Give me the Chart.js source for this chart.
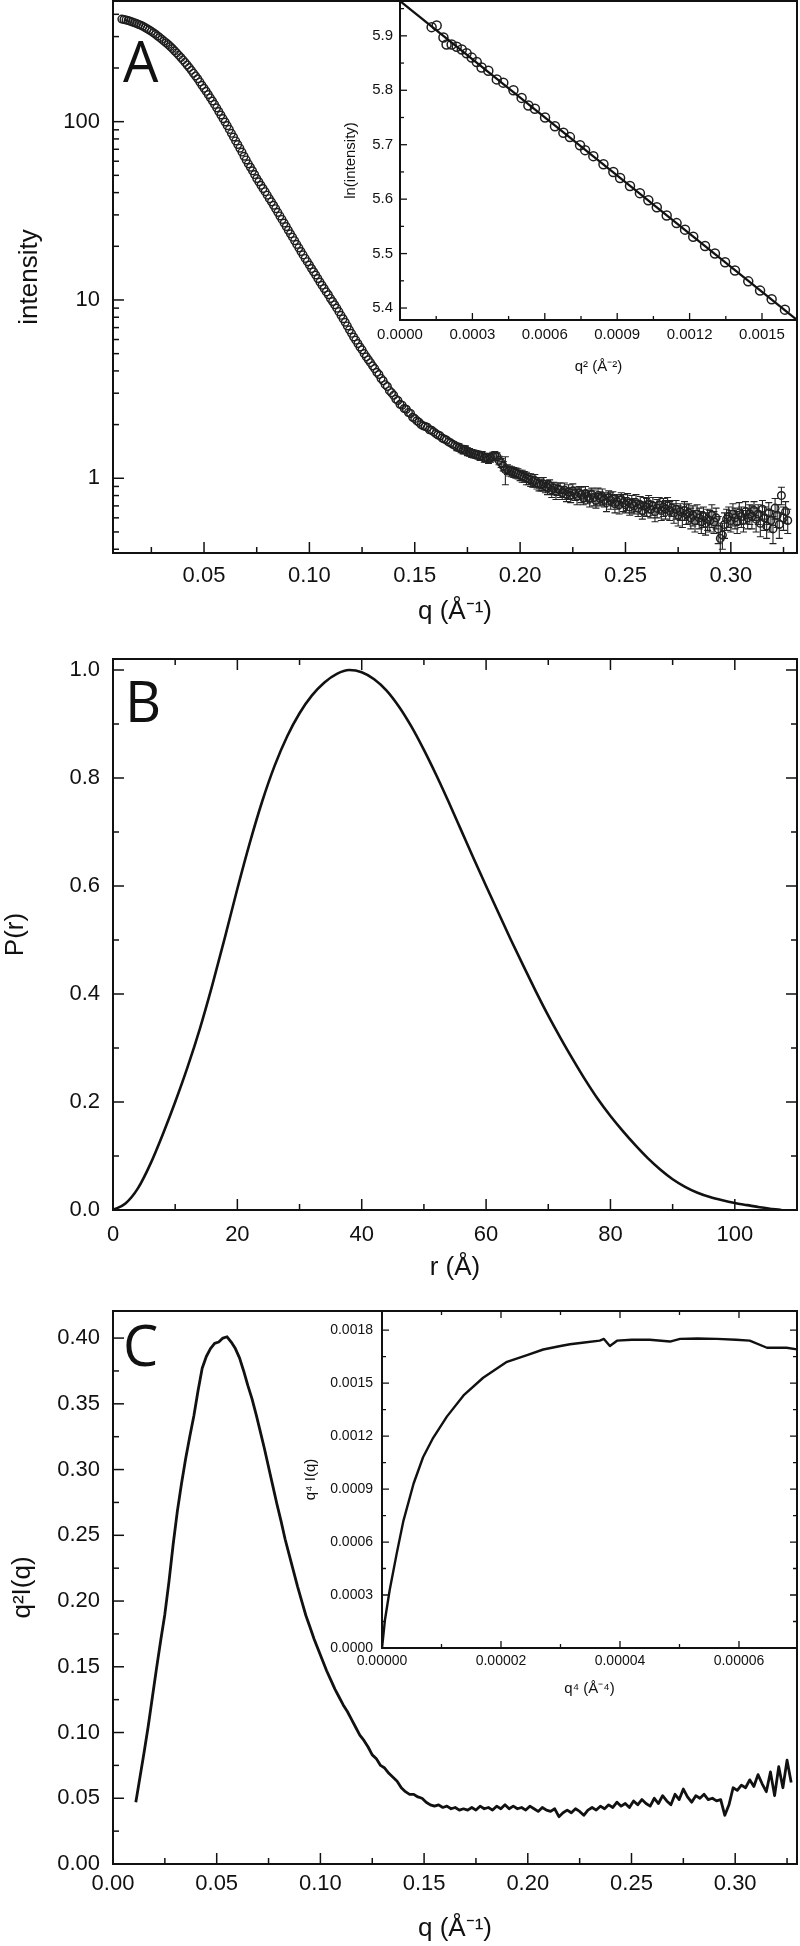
<!DOCTYPE html>
<html>
<head>
<meta charset="utf-8">
<script src="https://cdn.jsdelivr.net/npm/chart.js@4.4.1/dist/chart.umd.min.js"></script>
<style>
  html, body { margin: 0; padding: 0; background: #fff; }
  #wrap { position: relative; width: 800px; height: 1946px; }
  canvas { position: absolute; }
</style>
</head>
<body>
<div id="wrap">
  <canvas id="chartA" width="800" height="660" style="left:0;top:0"></canvas>
  <canvas id="chartAin" width="500" height="400" style="left:300px;top:0"></canvas>
  <canvas id="chartB" width="800" height="660" style="left:0;top:640px"></canvas>
  <canvas id="chartC" width="800" height="656" style="left:0;top:1290px"></canvas>
  <canvas id="chartCin" width="550" height="420" style="left:250px;top:1290px"></canvas>
</div>
<script>
// panel A: scattering curve, q / intensity / error
const qA = [
  0.011,0.012,0.013,0.014,0.015,0.016,0.017,0.018,0.019,
  0.020,0.021,0.022,0.023,0.024,0.025,0.026,0.027,0.028,0.029,
  0.030,0.031,0.032,0.033,0.034,0.035,0.036,0.037,0.038,0.039,
  0.040,0.041,0.042,0.043,0.044,0.045,0.046,0.047,0.048,0.049,
  0.050,0.051,0.052,0.053,0.054,0.055,0.056,0.057,0.058,0.059,
  0.060,0.061,0.062,0.063,0.064,0.065,0.066,0.067,0.068,0.069,
  0.070,0.071,0.072,0.073,0.074,0.075,0.076,0.077,0.078,0.079,
  0.080,0.081,0.082,0.083,0.084,0.085,0.086,0.087,0.088,0.089,
  0.090,0.091,0.092,0.093,0.094,0.095,0.096,0.097,0.098,0.099,
  0.100,0.101,0.102,0.103,0.104,0.105,0.106,0.107,0.108,0.109,
  0.110,0.111,0.112,0.113,0.114,0.115,0.116,0.117,0.118,0.119,
  0.120,0.121,0.122,0.123,0.124,0.125,0.126,0.127,0.128,0.129,
  0.130,0.131,0.132,0.133,0.134,0.135,0.136,0.137,0.138,0.139,
  0.140,0.141,0.142,0.143,0.144,0.145,0.146,0.147,0.148,0.149,
  0.150,0.151,0.152,0.153,0.154,0.155,0.156,0.157,0.158,0.159,
  0.160,0.161,0.162,0.163,0.164,0.165,0.166,0.167,0.168,0.169,
  0.170,0.171,0.172,0.173,0.174,0.175,0.176,0.177,0.178,0.179,
  0.180,0.181,0.182,0.183,0.184,0.185,0.186,0.187,0.188,0.189,
  0.190,0.191,0.192,0.193,0.194,0.195,0.196,0.197,0.198,0.199,
  0.200,0.201,0.202,0.203,0.204,0.205,0.206,0.207,0.208,0.209,
  0.210,0.211,0.212,0.213,0.214,0.215,0.216,0.217,0.218,0.219,
  0.220,0.221,0.222,0.223,0.224,0.225,0.226,0.227,0.228,0.229,
  0.230,0.231,0.232,0.233,0.234,0.235,0.236,0.237,0.238,0.239,
  0.240,0.241,0.242,0.243,0.244,0.245,0.246,0.247,0.248,0.249,
  0.250,0.251,0.252,0.253,0.254,0.255,0.256,0.257,0.258,0.259,
  0.260,0.261,0.262,0.263,0.264,0.265,0.266,0.267,0.268,0.269,
  0.270,0.271,0.272,0.273,0.274,0.275,0.276,0.277,0.278,0.279,
  0.280,0.281,0.282,0.283,0.284,0.285,0.286,0.287,0.288,0.289,
  0.290,0.291,0.292,0.293,0.294,0.295,0.296,0.297,0.298,0.299,
  0.300,0.301,0.302,0.303,0.304,0.305,0.306,0.307,0.308,0.309,
  0.310,0.311,0.312,0.313,0.314,0.315,0.316,0.317,0.318,0.319,
  0.320,0.321,0.322,0.323,0.324,0.325,0.326,0.327
];
const aI = [
  376,374,372,369,366,362.5,359,355,351,
  347,343,337.5,332,326.5,321,315,309,302.5,296,
  289.5,283,277,271,264,257,250,243,236,229,
  222,215,208,201,194,187,180.5,174,167,160,
  154,148,142,136,130.5,125,119.5,114,109,104,
  99.5,95,90.5,86,82,78,74.5,71,67.5,64,
  61,58,55.5,53,50.5,48,46,44,42.2,40.5,
  38.7,37,35.5,34,32.5,31,29.6,28.3,27,25.8,
  24.6,23.5,22.5,21.5,20.5,19.6,18.7,17.9,17.1,16.4,
  15.7,15.0,14.4,13.8,13.2,12.6,12.1,11.6,11.1,10.7,
  10.2,9.8,9.4,9.0,8.6,8.2,7.85,7.5,7.15,6.8,
  6.5,6.2,5.95,5.7,5.45,5.25,5.0,4.8,4.62,4.45,
  4.27,4.12,3.93,3.82,3.63,3.52,3.35,3.27,3.10,3.02,
  2.92,2.78,2.73,2.60,2.57,2.46,2.44,2.34,2.31,2.20,
  2.16,2.10,2.06,2.00,1.97,1.95,1.93,1.87,1.86,1.82,
  1.78,1.75,1.73,1.68,1.66,1.64,1.60,1.58,1.55,1.53,
  1.50,1.49,1.46,1.44,1.45,1.41,1.40,1.38,1.37,1.36,
  1.35,1.33,1.34,1.30,1.31,1.28,1.30,1.33,1.34,1.32,
  1.26,1.22,1.17,1.12,1.12,1.10,1.09,1.08,1.07,1.06,
  1.04,1.03,1.02,1.00,0.99,0.98,0.96,0.97,0.94,0.93,
  0.92,0.93,0.90,0.89,0.91,0.86,0.88,0.84,0.87,0.86,
  0.83,0.86,0.81,0.84,0.80,0.85,0.82,0.79,0.83,0.81,
  0.78,0.82,0.79,0.77,0.81,0.78,0.75,0.80,0.77,0.79,
  0.76,0.73,0.78,0.75,0.77,0.72,0.74,0.71,0.76,0.73,
  0.71,0.74,0.69,0.72,0.70,0.73,0.68,0.71,0.66,0.70,
  0.69,0.72,0.67,0.70,0.65,0.68,0.71,0.66,0.69,0.67,
  0.70,0.66,0.68,0.64,0.67,0.62,0.65,0.61,0.66,0.63,
  0.64,0.60,0.62,0.58,0.63,0.60,0.57,0.61,0.56,0.59,
  0.58,0.62,0.57,0.60,0.52,0.46,0.48,0.55,0.59,0.61,
  0.58,0.63,0.60,0.57,0.64,0.61,0.58,0.65,0.60,0.63,
  0.61,0.66,0.59,0.63,0.56,0.67,0.60,0.54,0.64,0.58,
  0.52,0.68,0.62,0.55,0.80,0.60,0.65,0.58
];
const aErr = [
  5,5,5,5,5,5,5,5,5,
  5,5,5,5,4,4,4,4,4,4,
  4,4,4,4,3,3,3,3,3,3,
  3,3,3,3,3,2,2,2,2,2,
  2,2,2,2,2,1.5,1.5,1.5,1.5,1.5,
  1.4,1.3,1.3,1.2,1.2,1.1,1,1,1,1,
  0.9,0.9,0.8,0.8,0.7,0.7,0.6,0.6,0.6,0.6,
  0.5,0.5,0.5,0.5,0.5,0.5,0.5,0.5,0.5,0.5,
  0.4,0.4,0.35,0.35,0.3,0.3,0.3,0.3,0.25,0.25,
  0.25,0.25,0.22,0.22,0.2,0.2,0.2,0.2,0.18,0.18,
  0.17,0.17,0.16,0.16,0.15,0.15,0.14,0.14,0.13,0.13,
  0.12,0.12,0.12,0.12,0.11,0.11,0.1,0.1,0.1,0.1,
  0.09,0.09,0.09,0.09,0.08,0.08,0.08,0.08,0.08,0.08,
  0.07,0.07,0.07,0.07,0.07,0.07,0.07,0.07,0.07,0.07,
  0.07,0.07,0.07,0.07,0.07,0.07,0.07,0.07,0.07,0.07,
  0.07,0.07,0.07,0.07,0.07,0.07,0.07,0.07,0.07,0.07,
  0.07,0.07,0.07,0.07,0.07,0.07,0.07,0.07,0.07,0.07,
  0.07,0.07,0.07,0.07,0.07,0.07,0.07,0.07,0.07,0.07,
  0.07,0.07,0.07,0.20,0.07,0.07,0.07,0.07,0.07,0.07,
  0.07,0.08,0.07,0.08,0.07,0.08,0.07,0.08,0.07,0.08,
  0.07,0.08,0.07,0.08,0.07,0.08,0.07,0.08,0.07,0.08,
  0.07,0.08,0.07,0.08,0.07,0.08,0.07,0.08,0.07,0.08,
  0.07,0.08,0.07,0.08,0.07,0.08,0.07,0.08,0.07,0.08,
  0.07,0.08,0.07,0.08,0.07,0.08,0.07,0.08,0.07,0.08,
  0.07,0.08,0.07,0.08,0.07,0.08,0.07,0.08,0.07,0.08,
  0.08,0.08,0.07,0.08,0.08,0.08,0.07,0.08,0.08,0.08,
  0.08,0.08,0.07,0.08,0.08,0.08,0.07,0.08,0.08,0.08,
  0.08,0.08,0.08,0.08,0.08,0.08,0.08,0.08,0.08,0.08,
  0.08,0.09,0.08,0.08,0.09,0.08,0.08,0.09,0.08,0.08,
  0.08,0.09,0.08,0.08,0.09,0.08,0.08,0.09,0.08,0.08,
  0.09,0.08,0.09,0.08,0.09,0.08,0.09,0.08,0.09,0.08,
  0.09,0.09,0.09,0.09,0.09,0.09,0.09,0.09
];

// panel A inset: Guinier plot
const inQ2 = [0.000131,0.000152,0.000180,0.000193,0.000214,0.000235,0.000256,0.000276,0.000297,0.000318,
  0.000338,0.000366,0.000401,0.000428,0.000470,0.000504,0.000532,0.000559,0.000601,0.000642,
  0.000677,0.000704,0.000746,0.000767,0.000801,0.000843,0.000884,0.000912,0.000953,0.000994,
  0.001029,0.001064,0.001105,0.001146,0.001181,0.001215,0.001264,0.001305,0.001347,0.001388,
  0.001443,0.001492,0.001540,0.001595];
const inLnI = [5.916,5.919,5.897,5.884,5.884,5.880,5.875,5.868,5.860,5.852,
  5.842,5.836,5.820,5.814,5.800,5.786,5.772,5.766,5.750,5.734,
  5.722,5.714,5.699,5.690,5.679,5.664,5.650,5.639,5.624,5.611,
  5.598,5.585,5.570,5.556,5.544,5.531,5.514,5.500,5.484,5.469,
  5.449,5.432,5.416,5.397];
const fitQ2 = [0, 0.001645];
const fitLnI = [5.964, 5.378];

// panel B: pair distance distribution
const rB = [0,2,4,6,8,10,12,14,16,18,20,22,24,26,28,30,32,34,36,38,40,42,44,46,48,50,52,54,
  56,58,60,62,64,66,68,70,72,74,76,78,80,82,84,86,88,90,92,94,96,98,100,102,104,106,107.5];
const pB = [0,0.012,0.04,0.085,0.14,0.2,0.265,0.337,0.418,0.505,0.595,0.68,0.757,0.823,0.877,0.92,0.953,0.977,0.993,1.0,
  0.996,0.983,0.962,0.932,0.895,0.852,0.805,0.755,0.703,0.651,0.6,0.55,0.5,0.452,0.405,0.36,0.318,0.278,0.24,0.205,
  0.174,0.146,0.12,0.096,0.075,0.057,0.043,0.032,0.024,0.018,0.013,0.009,0.005,0.002,0];

// panel C: q^2 I(q)
const qC = [
  0.011,0.013,0.015,0.017,0.019,0.021,0.023,0.025,0.027,0.029,
  0.031,0.033,0.035,0.037,0.039,0.041,0.043,0.045,0.047,0.049,
  0.051,0.053,0.055,0.057,0.059,0.061,0.063,0.065,0.067,0.069,
  0.071,0.073,0.075,0.077,0.079,0.081,0.083,0.085,0.087,0.089,
  0.091,0.093,0.095,0.097,0.099,0.101,0.103,0.105,0.107,0.109,
  0.111,0.113,0.115,0.117,0.119,0.121,0.123,0.125,0.127,0.129,
  0.131,0.133,0.135,0.137,0.139,0.141,0.143,0.145,0.147,0.149,
  0.151,0.153,0.155,0.157,0.159,0.161,0.163,0.165,0.167,0.169,
  0.171,0.173,0.175,0.177,0.179,0.181,0.183,0.185,0.187,0.189,
  0.191,0.193,0.195,0.197,0.199,0.201,0.203,0.205,0.207,0.209,
  0.211,0.213,0.215,0.217,0.219,0.221,0.223,0.225,0.227,0.229,
  0.231,0.233,0.235,0.237,0.239,0.241,0.243,0.245,0.247,0.249,
  0.251,0.253,0.255,0.257,0.259,0.261,0.263,0.265,0.267,0.269,
  0.271,0.273,0.275,0.277,0.279,0.281,0.283,0.285,0.287,0.289,
  0.291,0.293,0.295,0.297,0.299,0.301,0.303,0.305,0.307,0.309,
  0.311,0.313,0.315,0.317,0.319,0.321,0.323,0.325,0.327
];
const cV = [
  0.047,0.066,0.085,0.105,0.127,0.149,0.170,0.190,0.215,0.243,
  0.268,0.289,0.308,0.325,0.341,0.360,0.377,0.386,0.392,0.396,
  0.397,0.400,0.401,0.397,0.392,0.385,0.375,0.364,0.354,0.342,
  0.329,0.316,0.302,0.288,0.274,0.261,0.247,0.235,0.223,0.211,
  0.200,0.189,0.180,0.171,0.163,0.155,0.147,0.140,0.133,0.127,
  0.121,0.116,0.110,0.104,0.098,0.094,0.089,0.083,0.080,0.075,
  0.073,0.069,0.066,0.063,0.058,0.055,0.053,0.053,0.051,0.050,
  0.047,0.045,0.044,0.045,0.043,0.044,0.042,0.043,0.041,0.042,
  0.041,0.043,0.041,0.044,0.042,0.043,0.041,0.044,0.042,0.045,
  0.042,0.044,0.042,0.043,0.041,0.044,0.042,0.040,0.043,0.041,
  0.040,0.042,0.036,0.039,0.041,0.039,0.042,0.040,0.037,0.041,
  0.043,0.041,0.044,0.042,0.045,0.043,0.047,0.044,0.046,0.043,
  0.048,0.045,0.049,0.046,0.044,0.050,0.046,0.052,0.048,0.045,
  0.053,0.049,0.057,0.051,0.047,0.052,0.050,0.053,0.049,0.050,
  0.048,0.049,0.037,0.045,0.058,0.056,0.060,0.058,0.064,0.059,
  0.068,0.061,0.055,0.070,0.052,0.074,0.058,0.079,0.062
];

// panel C inset: q^4 I(q) vs q^4
const c4Q4 = [0.00000002,0.0000005,0.0000013,0.0000025,0.0000036,0.0000053,0.0000069,0.0000086,0.0000109,0.0000137,
  0.000017,0.000021,0.0000245,0.0000271,0.000030,0.0000316,0.000034,0.0000366,0.0000373,0.0000383,
  0.0000395,0.000042,0.000045,0.0000484,0.0000501,0.000053,0.0000563,0.0000595,0.0000618,0.0000647,
  0.000068,0.0000699];
const c4I = [0.000005,0.00016,0.00033,0.00054,0.00072,0.00093,0.00108,0.00119,0.00131,0.00143,
  0.00153,0.00162,0.00166,0.00169,0.00171,0.00172,0.00173,0.00174,0.00175,0.00171,
  0.00174,0.001745,0.001745,0.001735,0.00175,0.001752,0.00175,0.001745,0.00174,0.0017,
  0.0017,0.00169];

// tick values
const aXTicks = [0.025,0.05,0.075,0.1,0.125,0.15,0.175,0.2,0.225,0.25,0.275,0.3,0.325];
const aYTicks = [0.4,0.5,0.6,0.7,0.8,0.9,1,2,3,4,5,6,7,8,9,10,20,30,40,50,60,70,80,90,100,200,300,400];
const aYLabels = [1, 10, 100];
const aInXTicks = [0,0.00015,0.0003,0.00045,0.0006,0.00075,0.0009,0.00105,0.0012,0.00135,0.0015];
const aInYTicks = [5.4,5.45,5.5,5.55,5.6,5.65,5.7,5.75,5.8,5.85,5.9,5.95];
const bXTicks = [0,10,20,30,40,50,60,70,80,90,100];
const bYTicks = [0,0.1,0.2,0.3,0.4,0.5,0.6,0.7,0.8,0.9,1.0];
const cXTicks = [0,0.025,0.05,0.075,0.1,0.125,0.15,0.175,0.2,0.225,0.25,0.275,0.3,0.325];
const cYTicks = [0,0.025,0.05,0.075,0.1,0.125,0.15,0.175,0.2,0.225,0.25,0.275,0.3,0.325,0.35,0.375,0.4];
const cInXTicks = [0,0.00001,0.00002,0.00003,0.00004,0.00005,0.00006];
const cInYTicks = [0,0.00015,0.0003,0.00045,0.0006,0.00075,0.0009,0.00105,0.0012,0.00135,0.0015,0.00165,0.0018];

Chart.defaults.font.family = "'Liberation Sans', Arial, Helvetica, sans-serif";
Chart.defaults.color = '#111';
Chart.defaults.animation = false;

const near = (v, step) => Math.abs(v / step - Math.round(v / step)) < 1e-6;

function makeAxis(o) {
  return {
    type: o.type || 'linear',
    position: o.position,
    min: o.min,
    max: o.max,
    bounds: 'data',
    grid: { display: false, drawTicks: false },
    border: { display: false },
    afterBuildTicks(s) {
      s.ticks = o.ticks.filter(v => v >= o.min && v <= o.max).map(v => ({ value: v }));
    },
    afterFit(s) {
      if (s.isHorizontal()) s.height = o.size; else s.width = o.size;
      s.paddingLeft = 0; s.paddingRight = 0; s.paddingTop = 0; s.paddingBottom = 0;
    },
    ticks: {
      autoSkip: false, maxRotation: 0, minRotation: 0,
      padding: o.pad,
      font: { size: o.fs },
      color: '#111',
      callback: v => (o.major(v) ? o.fmt(v) : '')
    },
    title: { display: true, text: o.title, font: { size: o.tfs }, color: '#111', padding: o.tpad }
  };
}

// frame round the plot area and ticks pointing inwards
const frameTicks = {
  id: 'frameTicks',
  afterDraw(chart, args, o) {
    const { ctx, chartArea: a } = chart;
    ctx.save();
    ctx.strokeStyle = '#111';
    ctx.lineWidth = o.tickWidth;
    ['x', 'y'].forEach(id => {
      const s = chart.scales[id];
      s.ticks.forEach(t => {
        const p = s.getPixelForValue(t.value);
        const len = t.label ? o.major : o.minor;
        ctx.beginPath();
        if (id === 'x') {
          ctx.moveTo(p, a.bottom); ctx.lineTo(p, a.bottom - len);
          if (o.mirror) { ctx.moveTo(p, a.top); ctx.lineTo(p, a.top + len); }
        } else {
          ctx.moveTo(a.left, p); ctx.lineTo(a.left + len, p);
          if (o.mirror) { ctx.moveTo(a.right, p); ctx.lineTo(a.right - len, p); }
        }
        ctx.stroke();
      });
    });
    ctx.lineWidth = o.frameWidth;
    ctx.strokeRect(a.left, a.top, a.right - a.left, a.bottom - a.top);
    ctx.restore();
  }
};

const errorBars = {
  id: 'errorBars',
  afterDatasetsDraw(chart, args, o) {
    const { ctx, chartArea: a } = chart;
    const xs = chart.scales.x, ys = chart.scales.y;
    ctx.save();
    ctx.beginPath();
    ctx.rect(a.left, a.top, a.right - a.left, a.bottom - a.top);
    ctx.clip();
    ctx.strokeStyle = '#222';
    ctx.lineWidth = 1.1;
    o.x.forEach((xv, i) => {
      const px = xs.getPixelForValue(xv);
      const lo = ys.getPixelForValue(o.y[i] - o.e[i]);
      const hi = ys.getPixelForValue(o.y[i] + o.e[i]);
      if (lo - hi < 2 * o.minHalf) return;
      ctx.beginPath();
      ctx.moveTo(px, lo); ctx.lineTo(px, hi);
      ctx.moveTo(px - o.cap, lo); ctx.lineTo(px + o.cap, lo);
      ctx.moveTo(px - o.cap, hi); ctx.lineTo(px + o.cap, hi);
      ctx.stroke();
    });
    ctx.restore();
  }
};

const panelLetter = {
  id: 'panelLetter',
  afterDraw(chart, args, o) {
    const ctx = chart.ctx;
    ctx.save();
    ctx.font = "56px 'Open Sans', 'Noto Sans', sans-serif";
    ctx.fillStyle = '#111';
    ctx.textBaseline = 'alphabetic';
    ctx.fillText(o.text, o.x, o.y);
    ctx.restore();
  }
};

const base = (pad) => ({
  responsive: false,
  events: [],
  layout: { padding: pad, autoPadding: false },
  plugins: { legend: { display: false }, tooltip: { enabled: false } }
});

// ---- A ----
const optA = base({ top: 1, right: 3, bottom: 0, left: 0 });
optA.plugins.frameTicks = { major: 11, minor: 6, tickWidth: 1.5, frameWidth: 2, mirror: false };
optA.plugins.errorBars = { x: qA, y: aI, e: aErr, cap: 3.5, minHalf: 3.6 };
optA.plugins.panelLetter = { text: 'A', x: 123, y: 82 };
optA.scales = {
  x: makeAxis({ position: 'bottom', min: 0.0068, max: 0.3314, ticks: aXTicks, size: 107, pad: 10, fs: 22,
    major: v => near(v, 0.05), fmt: v => v.toFixed(2), title: 'q (Å⁻¹)', tfs: 26, tpad: { top: 0, bottom: 33 } }),
  y: makeAxis({ type: 'logarithmic', position: 'left', min: 0.381, max: 475, ticks: aYTicks, size: 113, pad: 13, fs: 22,
    major: v => aYLabels.includes(v), fmt: v => String(v), title: 'intensity', tfs: 26, tpad: { top: 14, bottom: 0 } })
};
new Chart(document.getElementById('chartA'), {
  type: 'scatter',
  data: { datasets: [{
    data: qA.map((q, i) => ({ x: q, y: aI[i] })),
    pointRadius: 3.8, pointHoverRadius: 3.8, pointBorderWidth: 1.45,
    pointBorderColor: '#1e1e1e', pointBackgroundColor: 'rgba(255,255,255,0)'
  }] },
  options: optA,
  plugins: [frameTicks, errorBars, panelLetter]
});

// ---- A inset ----
const optAin = base({ top: 1, right: 3, bottom: 0, left: 0 });
optAin.plugins.frameTicks = { major: 7, minor: 4, tickWidth: 1.3, frameWidth: 2, mirror: false };
optAin.scales = {
  x: makeAxis({ position: 'bottom', min: 0, max: 0.001645, ticks: aInXTicks, size: 80, pad: 6, fs: 15,
    major: v => near(v, 0.0003), fmt: v => v.toFixed(4), title: 'q² (Å⁻²)', tfs: 15, tpad: { top: 0, bottom: 24 } }),
  y: makeAxis({ position: 'left', min: 5.378, max: 5.964, ticks: aInYTicks, size: 100, pad: 7, fs: 15,
    major: v => near(v, 0.1), fmt: v => v.toFixed(1), title: 'ln(intensity)', tfs: 15, tpad: { top: 42, bottom: 0 } })
};
new Chart(document.getElementById('chartAin'), {
  type: 'scatter',
  data: { datasets: [
    { data: fitQ2.map((v, i) => ({ x: v, y: fitLnI[i] })), showLine: true, borderColor: '#111', borderWidth: 2.2, pointRadius: 0 },
    { data: inQ2.map((v, i) => ({ x: v, y: inLnI[i] })), pointRadius: 4.5, pointHoverRadius: 4.5, pointBorderWidth: 1.5,
      pointBorderColor: '#1e1e1e', pointBackgroundColor: 'rgba(255,255,255,0)' }
  ] },
  options: optAin,
  plugins: [frameTicks]
});

// ---- B ----
const optB = base({ top: 19, right: 3, bottom: 0, left: 0 });
optB.plugins.frameTicks = { major: 11, minor: 6, tickWidth: 1.5, frameWidth: 2, mirror: true };
optB.plugins.panelLetter = { text: 'B', x: 125, y: 82 };
optB.scales = {
  x: makeAxis({ position: 'bottom', min: 0, max: 110, ticks: bXTicks, size: 90, pad: 12, fs: 22,
    major: v => near(v, 20), fmt: v => String(v), title: 'r (Å)', tfs: 26, tpad: { top: 0, bottom: 17 } }),
  y: makeAxis({ position: 'left', min: 0, max: 1.0204, ticks: bYTicks, size: 113, pad: 13, fs: 22,
    major: v => near(v, 0.2), fmt: v => v.toFixed(1), title: 'P(r)', tfs: 26, tpad: { top: 0, bottom: 0 } })
};
new Chart(document.getElementById('chartB'), {
  type: 'line',
  data: { datasets: [{
    data: rB.map((r, i) => ({ x: r, y: pB[i] })),
    borderColor: '#111', borderWidth: 2.6, pointRadius: 0, cubicInterpolationMode: 'monotone'
  }] },
  options: optB,
  plugins: [frameTicks, panelLetter]
});

// ---- C ----
const optC = base({ top: 21, right: 3, bottom: 0, left: 0 });
optC.plugins.frameTicks = { major: 11, minor: 6, tickWidth: 1.5, frameWidth: 2, mirror: false };
optC.plugins.panelLetter = { text: 'C', x: 123, y: 76 };
optC.scales = {
  x: makeAxis({ position: 'bottom', min: 0, max: 0.3298, ticks: cXTicks, size: 82, pad: 7, fs: 22,
    major: v => near(v, 0.05), fmt: v => v.toFixed(2), title: 'q (Å⁻¹)', tfs: 26, tpad: { top: 0, bottom: 2 } }),
  y: makeAxis({ position: 'left', min: 0, max: 0.4206, ticks: cYTicks, size: 113, pad: 13, fs: 22,
    major: v => near(v, 0.05), fmt: v => v.toFixed(2), title: 'q²I(q)', tfs: 26, tpad: { top: 7, bottom: 0 } })
};
new Chart(document.getElementById('chartC'), {
  type: 'line',
  data: { datasets: [{
    data: qC.map((q, i) => ({ x: q, y: cV[i] })),
    borderColor: '#111', borderWidth: 2.8, pointRadius: 0, borderJoinStyle: 'round'
  }] },
  options: optC,
  plugins: [frameTicks, panelLetter]
});

// ---- C inset ----
const optCin = base({ top: 21, right: 3, bottom: 0, left: 0 });
optCin.plugins.frameTicks = { major: 7, minor: 4, tickWidth: 1.3, frameWidth: 2, mirror: true };
optCin.scales = {
  x: makeAxis({ position: 'bottom', min: 0, max: 0.00006975, ticks: cInXTicks, size: 62, pad: 5, fs: 14,
    major: v => near(v, 0.00002), fmt: v => v.toFixed(5), title: 'q⁴ (Å⁻⁴)', tfs: 15, tpad: { top: 0, bottom: 12 } }),
  y: makeAxis({ position: 'left', min: 0, max: 0.001908, ticks: cInYTicks, size: 132, pad: 9, fs: 14,
    major: v => near(v, 0.0003), fmt: v => v.toFixed(4), title: 'q⁴ I(q)', tfs: 15, tpad: { top: 52, bottom: 0 } })
};
new Chart(document.getElementById('chartCin'), {
  type: 'line',
  data: { datasets: [{
    data: c4Q4.map((v, i) => ({ x: v, y: c4I[i] })),
    borderColor: '#111', borderWidth: 2.4, pointRadius: 0, borderJoinStyle: 'round'
  }] },
  options: optCin,
  plugins: [frameTicks]
});
</script>
</body>
</html>
